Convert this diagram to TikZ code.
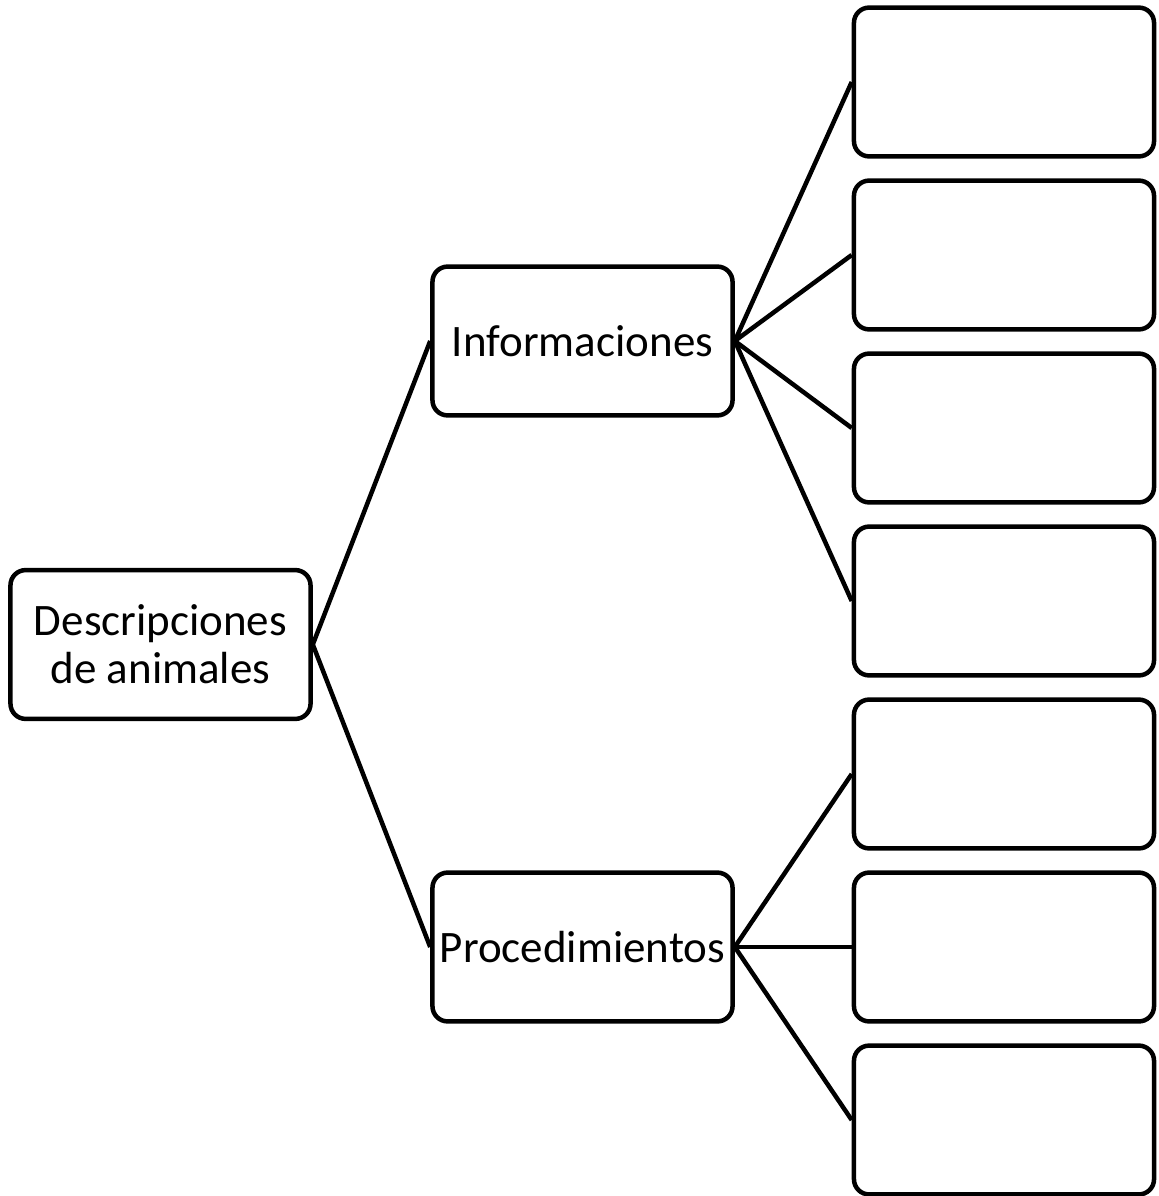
\documentclass[tikz,border=0pt]{standalone}
\usepackage{fontspec}
\setmainfont{Carlito}
\begin{document}
\begin{tikzpicture}[x=0.025cm,y=-0.025cm,
		caja/.style={draw,line width=3.2pt,rounded corners=0.38cm,minimum width=7.5cm,minimum height=3.72cm,inner sep=0pt,align=center,font=\fontsize{32}{34}\selectfont},
		rama/.style={line width=3.2pt}]
		\useasboundingbox (0,0) rectangle (1158,1196);
		\node[caja] (desc) at (160.5,644.5) {Descripciones\\de animales};
		\node[caja] (info) at (582.5,341) {Informaciones};
		\node[caja] (proc) at (582.5,947) {Procedimientos};
		\node[caja] (i1) at (1004,82) {};
		\node[caja] (i2) at (1004,255) {};
		\node[caja] (i3) at (1004,428) {};
		\node[caja] (i4) at (1004,601) {};
		\node[caja] (p1) at (1004,774) {};
		\node[caja] (p2) at (1004,947) {};
		\node[caja] (p3) at (1004,1120) {};
		\draw[rama] (desc.east) -- (info.west);
		\draw[rama] (desc.east) -- (proc.west);
		\draw[rama] (info.east) -- (i1.west);
		\draw[rama] (info.east) -- (i2.west);
		\draw[rama] (info.east) -- (i3.west);
		\draw[rama] (info.east) -- (i4.west);
		\draw[rama] (proc.east) -- (p1.west);
		\draw[rama] (proc.east) -- (p2.west);
		\draw[rama] (proc.east) -- (p3.west);
	\end{tikzpicture}
\end{document}
